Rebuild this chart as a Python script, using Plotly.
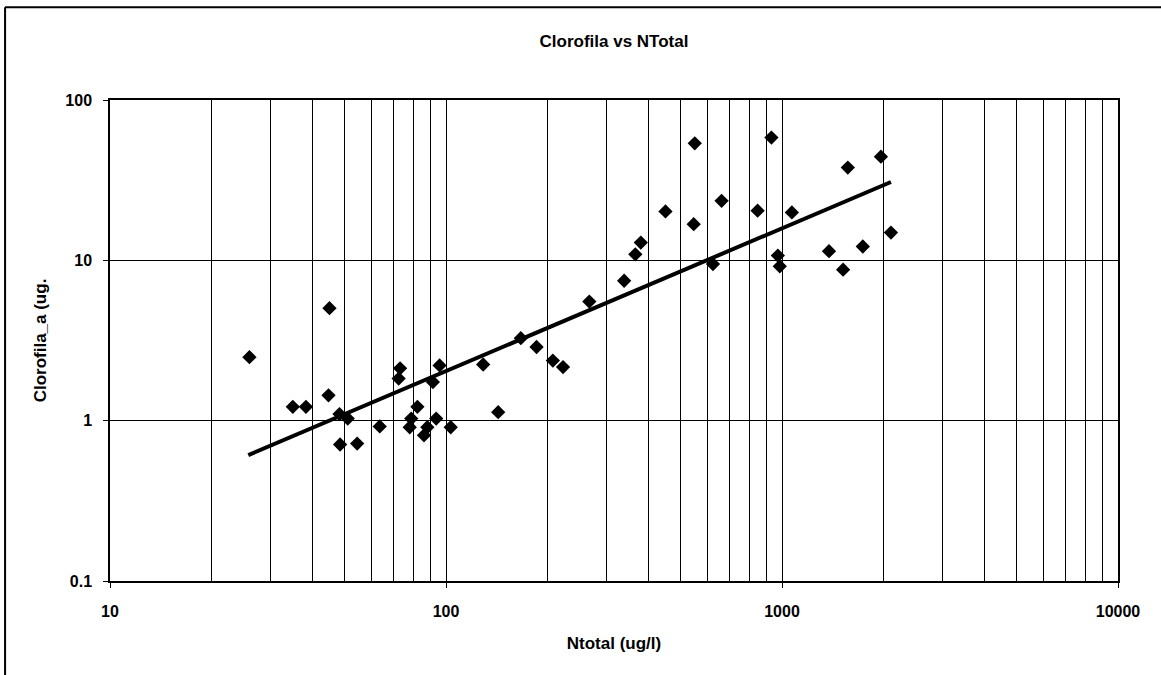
import plotly.graph_objects as go

# Data (Ntotal ug/l vs Clorofila_a ug/l)
ntotal = [26, 45, 35, 38.3, 44.7, 48.2, 51, 48.4, 54.4, 63.5, 73, 72.3, 82.2, 78.8, 78,
          88, 86, 93.5, 91.4, 95.7, 103.3, 129, 143, 167, 186, 208, 223, 267, 339,
          366, 380, 450, 550, 546, 623, 661, 846, 930, 972, 985, 1070, 1380, 1520,
          1570, 1740, 1970, 2110]
clorofila = [2.49, 5.03, 1.22, 1.22, 1.44, 1.1, 1.03, 0.71, 0.72, 0.92, 2.12, 1.83, 1.22,
             1.03, 0.91, 0.91, 0.81, 1.03, 1.74, 2.21, 0.91, 2.24, 1.13, 3.27, 2.88,
             2.37, 2.16, 5.53, 7.46, 10.9, 12.9, 20.2, 53.7, 16.8, 9.48, 23.5, 20.4,
             58.3, 10.7, 9.18, 19.9, 11.4, 8.74, 37.9, 12.2, 44.3, 14.9]

# Power trendline endpoints (as drawn in the reference)
trend_x = [25.8, 2110]
trend_y = [0.61, 30.8]

x_tickvals = [10, 100, 1000, 10000]
x_ticktext = ["10", "100", "1000", "10000"]
y_tickvals = [0.1, 1, 10, 100]
y_ticktext = ["0.1", "1", "10", "100"]

FONT = "Liberation Sans, Arial, sans-serif"

fig = go.Figure()
fig.add_trace(go.Scatter(x=trend_x, y=trend_y, mode="lines",
                         line=dict(color="black", width=4), showlegend=False,
                         hoverinfo="skip"))
fig.add_trace(go.Scatter(x=ntotal, y=clorofila, mode="markers",
                         marker=dict(symbol="diamond", size=11, color="black"),
                         showlegend=False))

axis_common = dict(type="log", showline=True, linecolor="black", linewidth=1.5,
                   mirror=True, showgrid=True, gridcolor="black", gridwidth=1.2,
                   zeroline=False, ticks="outside", ticklen=5, tickcolor="black",
                   tickfont=dict(family=FONT, size=16, color="black", weight="bold"))

fig.update_xaxes(range=[1, 4], tickvals=x_tickvals, ticktext=x_ticktext,
                 ticklabelstandoff=10,
                 minor=dict(dtick="D1", showgrid=True, gridcolor="black", gridwidth=1.2,
                            ticks=""),
                 title=dict(text="<b>Ntotal (ug/l)</b>", standoff=18,
                            font=dict(family=FONT, size=17, color="black")),
                 **axis_common)
fig.update_yaxes(range=[-1, 2], tickvals=y_tickvals, ticktext=y_ticktext,
                 ticklabelstandoff=8,
                 title=dict(text="<b>Clorofila_a (ug.</b>", standoff=14,
                            font=dict(family=FONT, size=17, color="black")),
                 **axis_common)

fig.update_layout(
    width=1161, height=675,
    margin=dict(l=110, r=43, t=100, b=94),
    paper_bgcolor="white", plot_bgcolor="white",
    title=dict(text="<b>Clorofila vs NTotal</b>", x=0.5, xanchor="center",
               xref="paper",
               y=1 - 41 / 675, yanchor="middle",
               font=dict(family=FONT, size=17, color="black")),
    shapes=[
        dict(type="line", xref="paper", yref="paper",
             x0=-0.1041, x1=-0.1041, y0=-0.196, y1=1.193,
             line=dict(color="black", width=2)),
        dict(type="line", xref="paper", yref="paper",
             x0=-0.1041, x1=1.05, y0=1.193, y1=1.193,
             line=dict(color="black", width=2)),
    ],
)

fig.write_html("out.html", post_script="document.body.style.margin='0';",
               config={"displayModeBar": False})
